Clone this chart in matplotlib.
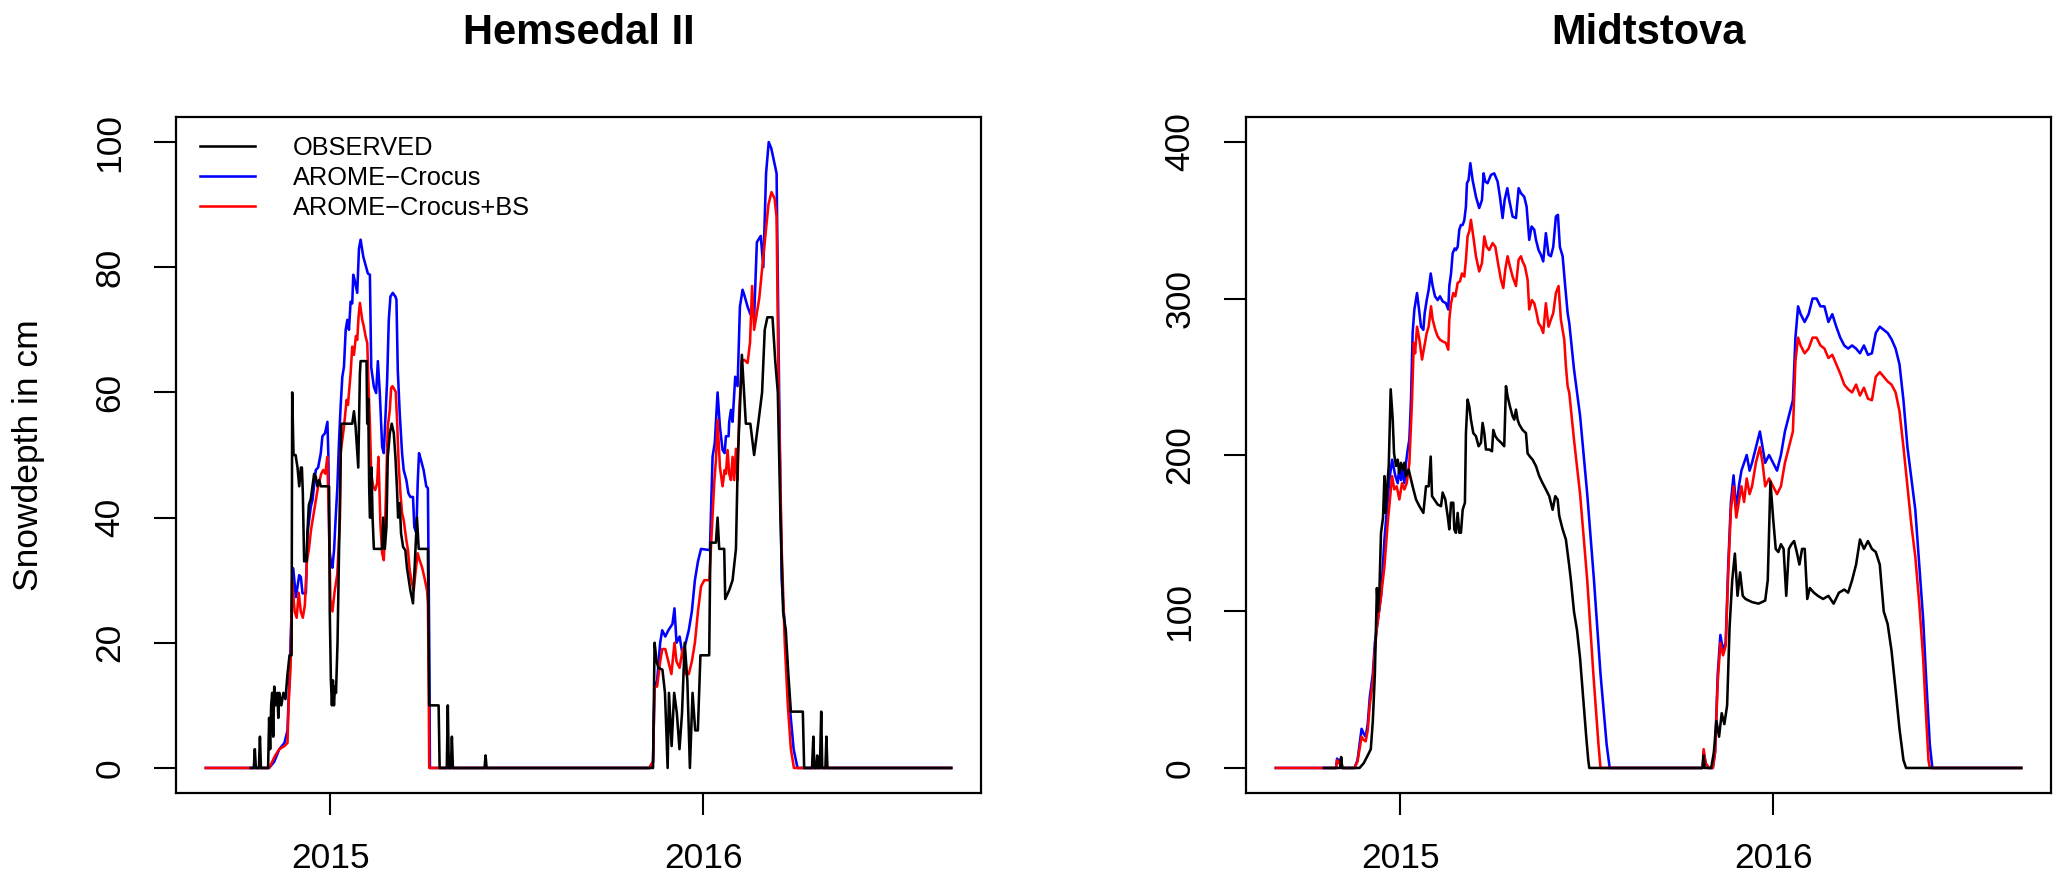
import numpy as np
import matplotlib
matplotlib.use("Agg")
import matplotlib.pyplot as plt

plt.rcParams['font.family'] = ['Liberation Sans', 'DejaVu Sans']

# ---------------- data (days relative to 1 Jan of each winter, value in cm) ----------------
SERIES_START = "2014-09-01"
SERIES_END = "2016-08-31"
WINTER1_BASE = "2015-01-01"
WINTER2_BASE = "2016-01-01"

TITLES = ["Hemsedal II", "Midtstova"]
LEGEND_LABELS = ["OBSERVED", "AROME\u2212Crocus", "AROME\u2212Crocus+BS"]
Y_LABEL = "Snowdepth in cm"
X_TICK_DATES = ["2015-01-01", "2016-01-01"]
X_TICK_LABELS = ["2015", "2016"]
HEM_YTICKS = [0, 20, 40, 60, 80, 100]
MID_YTICKS = [0, 100, 200, 300, 400]

# Hemsedal II ------------------------------------------------
HEM_OBS_W1 = [(-78, 0), (-75, 0), (-74, 3), (-73, 0), (-70, 0), (-69, 5), (-68, 0), (-61, 0), (-60, 8), (-59, 3),
              (-58, 10), (-57, 12), (-56, 5), (-55, 13), (-54, 10), (-52, 12), (-51, 8), (-50, 12), (-48, 10),
              (-46, 12), (-44, 11), (-42, 15), (-40, 18), (-38, 18), (-37.4, 60), (-36.1, 50), (-34.1, 50),
              (-32.2, 48), (-30.5, 45), (-28.9, 48), (-27.9, 48), (-27, 44), (-25.7, 33), (-24.4, 34),
              (-23.4, 33), (-22.4, 38), (-21.1, 42), (-19.2, 43), (-17.5, 45), (-15.9, 47), (-14.3, 46.5),
              (-12.7, 45), (-11, 46), (-9.4, 45), (-1.3, 45), (-0.6, 25), (0.5, 14), (1.5, 10), (2.5, 14),
              (3.5, 10), (4.5, 13), (5.5, 12), (7, 20), (8.5, 35), (10.7, 55), (21.4, 55), (23.1, 57),
              (24.7, 54.5), (27.3, 48), (28.9, 63), (29.6, 65), (35.4, 65), (36.1, 55), (37, 59), (38, 45),
              (38.7, 40), (39.3, 40), (40.3, 48), (41.3, 40), (42.6, 35), (50.7, 35), (51.7, 40), (53.3, 35),
              (54.9, 38.5), (56.2, 49.7), (58.2, 53.5), (60.1, 55), (62.1, 53.5), (63.7, 49.7), (65.3, 44.4),
              (66.3, 40), (67.9, 42.3), (69.2, 37.5), (71.2, 35.3), (73.4, 34.8), (75, 32), (78.3, 28.4),
              (80.9, 26.3), (82.2, 31), (84.8, 40), (86.5, 35), (95.5, 35), (96.8, 10), (106, 10), (107, 0),
              (114, 0), (115, 10), (116, 0), (118, 0), (119, 5), (120, 0), (151, 0), (152, 2), (153, 0)]
HEM_OBS_W2 = [(-49, 0), (-47.5, 20), (-45.5, 17), (-43.7, 16), (-39.8, 15.7), (-37.3, 12), (-34.7, 0),
              (-33.4, 12), (-30.8, 3.5), (-28.3, 12), (-25.7, 8.8), (-23.1, 3), (-20.6, 8.8), (-18, 20),
              (-15.4, 14), (-12.9, 0), (-10.3, 12), (-7.7, 6), (-5.1, 6), (-2.6, 18), (6, 18), (7.2, 36),
              (12.6, 36), (14.2, 40), (15.8, 35), (20.7, 35), (21.7, 27), (25.6, 28.4), (28.9, 30), (32.2, 35),
              (34.1, 50), (36, 57), (38, 66), (41.9, 55), (46.3, 55), (50, 50), (54, 55), (57.8, 60), (60.4, 70),
              (63, 72), (68, 72), (70.7, 65), (73.2, 60), (75.8, 40), (78.4, 25), (81, 22), (83.5, 15), (86, 9),
              (97.7, 9), (99, 0), (106.7, 0), (108, 5), (109, 0), (110.8, 0), (111.8, 2), (112.8, 0), (114.4, 0),
              (115.7, 9), (116.7, 0), (119.8, 0), (120.8, 5), (121.8, 0)]
HEM_BLUE_W1 = [(-60, 0), (-55, 1), (-50, 3), (-45, 4), (-42, 6), (-40, 15), (-38, 25), (-36.4, 31.9), (-33.8, 27.3),
               (-30.5, 30.8), (-28.9, 30.5), (-27.3, 27.9), (-24, 27.9), (-22.4, 37.5), (-19.2, 41.7),
               (-17.5, 42.8), (-14.3, 47.6), (-12, 48), (-9.4, 50.3), (-7.8, 53), (-5.2, 53.5), (-2.9, 55.3),
               (-2, 50), (-1, 35), (0.3, 33.2), (2, 32), (3.6, 34.8), (5.2, 40), (6.8, 44.7), (8.4, 52),
               (10, 57.7), (11.7, 62.5), (13.3, 64.1), (15, 70), (16.6, 71.6), (18.2, 70), (19.8, 74.5),
               (21.4, 74.2), (22.4, 78.8), (23.7, 78), (26.3, 75.9), (28, 83), (29.6, 84.4), (32.2, 81.7),
               (34.4, 80.4), (36.7, 79), (38.7, 78.8), (40, 64), (42.6, 60.9), (44.8, 59.9), (46.5, 65),
               (48.4, 59.9), (50.7, 51.3), (52.3, 50.3), (55.6, 62), (57.2, 71.6), (58.8, 75.3), (61.1, 75.9),
               (63.7, 75.3), (64.7, 74.8), (66, 63.6), (67.9, 56.7), (70.2, 50.3), (71.8, 47.6), (74.4, 46),
               (76.4, 43.9), (78.3, 43.3), (80.9, 43.3), (82.2, 38.5), (84.2, 37.5), (85.5, 45.5), (86.8, 50.3),
               (88.7, 49.2), (91.3, 47.6), (93.9, 45), (95.5, 44.7), (96.8, 20), (97.5, 0)]
HEM_BLUE_W2 = [(-52.7, 0), (-49, 1), (-47.5, 13), (-45, 14), (-42, 20), (-40, 22), (-37, 21), (-34, 22), (-30, 23),
               (-28, 25.5), (-26, 20), (-23, 21), (-20, 18), (-17, 20), (-14, 22), (-11, 25), (-8, 30), (-5, 33),
               (-2, 35), (6.7, 34.8), (9.3, 49.7), (11.5, 52), (14.2, 60), (16.5, 54.5), (19.1, 50.8),
               (21.1, 50.3), (22.4, 53), (25, 53), (25.6, 55.3), (27.3, 57.2), (28.9, 55.3), (31.5, 62.5),
               (33.8, 61), (35.4, 69.5), (36.1, 73.7), (38.7, 76.4), (40.3, 75.6), (43.6, 73.7), (46.3, 72.5),
               (50, 72), (52.7, 84), (56.5, 85), (59, 80), (61.7, 95), (64.3, 100), (66.8, 99), (69.4, 97),
               (72, 95), (74.5, 60), (77, 30), (81, 20), (84.8, 10), (88.7, 3), (92.5, 0)]
HEM_RED_W1 = [(-60, 0), (-54, 2), (-50, 3), (-45, 3.5), (-42, 4), (-41, 10), (-39, 16), (-37.5, 30), (-35, 25),
              (-33, 24), (-31, 28), (-29, 25), (-27, 24), (-25, 26), (-23, 33), (-21, 35), (-19, 38), (-15, 42),
              (-12, 45), (-9, 47), (-7, 47.6), (-5, 47), (-3, 49.7), (-1.5, 40), (0, 27), (2, 25), (4, 28),
              (6.8, 31), (9.4, 40), (10, 50.3), (13.3, 54.5), (15.9, 58.8), (17.2, 58), (19.8, 63), (21.4, 67.3),
              (23.1, 66), (25, 69), (26.3, 68.4), (27.6, 72.1), (28.9, 74.3), (31.2, 71.6), (32.8, 70.5),
              (34.4, 69), (36.1, 67.9), (37.4, 60.9), (38.7, 55), (40, 47), (41.9, 45), (43.9, 44.4),
              (45.8, 45.5), (47.1, 49.7), (49, 39), (50.7, 34.3), (52.3, 33.2), (53.6, 39), (54.9, 47),
              (56.2, 54.5), (58.2, 57.2), (59.5, 60.7), (60.8, 61), (64, 60.1), (65.3, 55.6), (67, 48.1),
              (68.6, 43.9), (70.2, 40.7), (71.8, 39.6), (74.4, 36.4), (76, 34.8), (77.7, 31.6), (79.9, 29.5),
              (81.6, 28.4), (83.2, 31), (85.5, 34.3), (87.4, 33.2), (89.7, 32.1), (92, 30.5), (94.6, 28.4),
              (95.5, 26.3), (96.2, 15), (96.8, 0)]
HEM_RED_W2 = [(-52.7, 0), (-49, 1), (-47.5, 13), (-45, 13), (-42, 17), (-40, 19), (-37, 19), (-34, 17), (-31, 15),
              (-28, 20), (-26, 17), (-23, 16), (-20, 19), (-17, 15), (-14, 15), (-11, 17), (-8, 20), (-5, 25),
              (-2, 29), (1.2, 30), (6.1, 30), (10.9, 45.5), (12.6, 49.2), (14.2, 55.6), (16.5, 48.1), (19.1, 45),
              (21.1, 47.6), (22.4, 47), (24, 50.8), (25.6, 47), (27.3, 46), (28.9, 49.7), (30.5, 46), (32.2, 51),
              (33.8, 46), (35.4, 57), (38, 65), (40.3, 65.2), (43.6, 64.7), (46, 68), (48, 77), (50, 70),
              (52, 72), (55, 75), (58, 80), (61, 85), (64, 90), (67, 92), (70, 91), (72, 88), (74, 60), (77, 35),
              (80, 20), (83, 10), (86, 3), (89, 0)]

# Midtstova --------------------------------------------------
MID_OBS_W1 = [(-75, 0), (-59, 0), (-58, 7), (-57, 0), (-40, 0), (-36, 3), (-32, 8), (-29, 12), (-27, 30), (-25, 60),
              (-23, 115), (-22, 100), (-20.5, 114), (-19, 150), (-17, 160), (-15.6, 186.5), (-14.7, 163),
              (-13.4, 176), (-11.4, 193), (-9.5, 242), (-7.5, 222.6), (-6.2, 201), (-4.3, 193), (-2.6, 197),
              (-1, 188.6), (0.6, 195), (2.3, 190.7), (3.9, 195), (5.5, 186.5), (8.1, 190.7), (10.4, 184.3),
              (12, 180), (15.3, 171.6), (18.6, 167.3), (22.5, 163), (25.1, 180), (27.7, 180), (29.7, 199),
              (31, 173.7), (33.2, 171.6), (36.5, 168.4), (39.8, 167.3), (41.4, 176), (44, 171.6), (46.3, 161),
              (47.9, 152.5), (49.6, 169.5), (51.8, 169.5), (52.8, 152.5), (54.4, 150.3), (56.1, 163),
              (57.7, 150.3), (59.3, 150.3), (61, 165), (63.2, 169.5), (64.2, 214), (65.8, 235.4), (67.5, 231),
              (69.1, 222.6), (71.4, 214), (74, 212), (76.6, 205.6), (78.9, 207.8), (80.5, 220.5), (82.2, 214),
              (83.8, 203.5), (87.1, 203.5), (89.7, 202.4), (91, 216), (93, 212), (95.2, 210), (98.5, 208),
              (101.7, 205.6), (103.4, 244), (105, 237.5), (107.3, 231), (109.9, 224.8), (111.5, 222.6),
              (113.2, 229), (114.8, 222.6), (116.4, 219.5), (119.7, 216), (123, 214), (124.6, 201),
              (126.9, 199), (129.5, 197), (132.8, 192.9), (136, 186.5), (139.3, 182), (142.5, 178),
              (145.8, 173.7), (149.1, 165), (151.7, 173.7), (154, 171.6), (155.6, 161), (158.9, 152.5),
              (162.1, 146), (165.4, 129), (167, 120), (170, 100), (173, 88), (176, 70), (179, 45), (182, 20),
              (184, 5), (185, 0)]
MID_OBS_W2 = [(-72, 0), (-69, 0), (-68, 8), (-67, 0), (-60.6, 0), (-58, 10), (-55.5, 30), (-52.9, 20), (-50.3, 35),
              (-47.7, 28), (-45, 40), (-42.6, 90), (-40, 120), (-37.4, 137), (-34.8, 110), (-32.3, 125),
              (-29.7, 110), (-27, 108), (-20.6, 106), (-14.2, 105), (-7.7, 107), (-5.2, 120), (-2.6, 183),
              (0, 160), (2.6, 140), (5.2, 138), (7.7, 143), (10.3, 140), (12.9, 110), (15.5, 140), (18, 143),
              (20.6, 145), (23.2, 138), (25.8, 130), (28.4, 140), (31, 140), (33.5, 108), (36, 115), (40, 112),
              (43.9, 110), (49, 108), (54.2, 110), (59.3, 105), (64.5, 112), (69.7, 114), (73.5, 112),
              (77.4, 120), (81.3, 130), (85.1, 146), (89, 140), (92.9, 145), (96.8, 140), (100.6, 138),
              (104.5, 130), (108.4, 100), (112.2, 92), (116, 75), (120, 50), (123.8, 25), (127.7, 5), (130.3, 0)]
MID_BLUE_W1 = [(-63, 0), (-62, 6), (-60, 4), (-58, 6), (-57, 0), (-45, 0), (-42, 5), (-40, 15), (-38, 25), (-36, 22),
               (-34, 20), (-32, 28), (-30, 45), (-27, 60), (-25, 80), (-23, 90), (-21, 100), (-18.9, 110),
               (-15.6, 146), (-10.8, 184), (-8.1, 197), (-4.9, 186.5), (-2.6, 182), (-1, 193), (0.6, 184),
               (2.3, 190.7), (3.9, 182), (5.5, 195), (7.2, 203.5), (8.8, 210), (10.4, 235.4), (12, 278),
               (13.7, 293), (16.3, 303.5), (17.9, 295), (20.2, 282), (22.5, 280), (23.8, 290.7), (25.8, 299),
               (27.7, 305.6), (29.7, 316), (31.6, 308), (33.9, 301.4), (36.5, 299), (38.8, 301.4), (41.4, 298.2),
               (44.6, 297), (46.9, 293), (47.9, 308), (49.6, 316), (51.2, 329), (53.2, 332), (54.4, 331),
               (56.1, 333), (57.7, 344), (59.3, 347), (61, 347), (62.6, 350), (64.2, 358.8), (65.2, 373.7),
               (66.8, 375.8), (68.5, 386.5), (70.7, 375.8), (74, 365), (77.2, 357.8), (79.9, 363), (81.5, 380),
               (83.1, 374.8), (85.4, 373.7), (88.7, 379), (91.9, 380), (95.2, 374.8), (97.5, 365), (100.1, 351.4),
               (102.1, 363), (104.7, 370.5), (106.6, 363), (109.9, 352.4), (113.2, 351.4), (115.8, 370.5),
               (118.1, 367.3), (121.3, 365), (123.6, 358.8), (126.2, 337.5), (128.5, 346), (131.1, 344),
               (132.8, 337.5), (135.3, 331), (137.6, 328), (139.9, 323.7), (142.5, 341.8), (145.1, 328),
               (147.4, 327), (149.7, 333), (152.3, 352.4), (154.3, 353.5), (156.2, 333), (158.9, 327),
               (161.4, 308), (163.8, 290.7), (165.4, 284.3), (170, 255), (176, 225), (183, 175), (189.6, 120),
               (196, 60), (202, 15), (205, 0)]
MID_BLUE_W2 = [(-72, 0), (-69, 0), (-68, 10), (-66, 3), (-63, 0), (-59, 0), (-56.8, 10), (-54.2, 60), (-51.6, 85),
               (-49, 75), (-46.4, 80), (-43.9, 130), (-41.3, 170), (-38.7, 187), (-36, 165), (-33.5, 180),
               (-31, 190), (-28.4, 195), (-25.8, 200), (-23, 190), (-20.6, 195), (-16.8, 205), (-12.9, 215),
               (-10.3, 205), (-7.7, 195), (-3.9, 200), (0, 195), (3.9, 190), (7.7, 200), (11.6, 215), (15.5, 225),
               (19.4, 235), (21.9, 275), (24.5, 295), (27, 290), (30.9, 285), (34.8, 290), (38.7, 300),
               (42.6, 300), (46.4, 295), (50.3, 295), (54.2, 285), (58, 290), (61.9, 282), (65.8, 275),
               (69.7, 270), (73.5, 268), (77.4, 270), (81.3, 268), (85.1, 265), (89, 270), (92.9, 264),
               (96.8, 265), (100.6, 278), (104.5, 282), (108.4, 280), (112.2, 278), (116, 274), (120, 268),
               (123.8, 258), (127.7, 235), (131.6, 205), (135.5, 185), (139.3, 165), (143.2, 130), (147, 95),
               (149.7, 60), (152.2, 30), (153.5, 15), (156, 0)]
MID_RED_W1 = [(-63, 0), (-62, 5), (-60, 3), (-58, 5), (-57, 0), (-45, 0), (-42, 4), (-40, 12), (-38, 20), (-36, 18),
              (-34, 17), (-32, 24), (-30, 40), (-27, 55), (-25, 75), (-23, 90), (-21, 100), (-18.9, 110),
              (-15.6, 129), (-12.4, 156.7), (-8.1, 186.5), (-5.9, 178), (-3.6, 180), (-1, 171.6), (1.6, 182),
              (3.9, 178), (6.2, 182), (8.8, 195), (11.4, 235), (13.1, 271.6), (14.4, 265), (16.3, 282),
              (18.6, 273.7), (21.2, 261), (23.5, 269.5), (25.8, 278), (27.7, 282), (30, 295), (31.6, 286.5),
              (34.2, 280), (36.5, 275.8), (38.8, 273.7), (41.4, 272.6), (44.6, 271.6), (46.9, 267.3),
              (47.9, 286.5), (49.6, 297), (51.8, 303.5), (53.8, 301.4), (56.1, 310), (58.4, 311), (60.3, 316),
              (62.6, 314), (64.2, 324.8), (65.8, 339.7), (67.5, 343), (69.1, 350.3), (71.4, 339.7), (74, 327),
              (77.2, 317.3), (79.9, 322.6), (82.2, 339.7), (84.5, 333), (87.1, 331), (90.3, 335.4), (93, 333),
              (95.6, 322.6), (98.5, 312), (100.8, 306.7), (102.7, 318.4), (105, 327), (107.3, 320.5),
              (109.9, 314), (113.2, 308), (115.8, 324.8), (118.1, 327), (119.7, 323.7), (122, 320.5),
              (124.6, 312), (126.2, 293), (128.8, 299), (131.1, 297), (133.4, 290.7), (135.3, 284.3),
              (137.6, 282), (139.9, 278), (142.5, 297), (145.1, 282), (147.4, 286.5), (149.7, 290.7),
              (152.3, 303.5), (154.9, 308), (157.2, 286.5), (160.5, 273.7), (162.1, 256.7), (163.8, 244),
              (165.4, 239.7), (170, 210), (176, 175), (183, 120), (189, 60), (194, 15), (196, 0)]
MID_RED_W2 = [(-72, 0), (-69, 0), (-68, 12), (-66, 3), (-63, 0), (-59, 0), (-56.8, 10), (-54.2, 55), (-51.6, 80),
              (-49, 72), (-46.4, 78), (-43.9, 125), (-41.3, 165), (-38.7, 180), (-36, 160), (-33.5, 170),
              (-31, 180), (-28.4, 170), (-25.8, 185), (-23, 175), (-20.6, 180), (-16.8, 195), (-12.9, 205),
              (-10.3, 195), (-7.7, 180), (-3.9, 185), (0, 180), (3.9, 175), (7.7, 180), (11.6, 195), (15.5, 205),
              (19.4, 215), (21.9, 260), (24.5, 275), (27, 270), (30.9, 265), (34.8, 268), (38.7, 275),
              (42.6, 275), (46.4, 270), (50.3, 268), (54.2, 262), (58, 264), (61.9, 258), (65.8, 252),
              (69.7, 245), (73.5, 242), (77.4, 240), (81.3, 245), (85.1, 238), (89, 243), (92.9, 236),
              (96.8, 235), (100.6, 250), (104.5, 253), (108.4, 250), (112.2, 247), (116, 245), (120, 240),
              (123.8, 228), (127.7, 205), (131.6, 180), (135.5, 155), (139.3, 135), (143.2, 105), (147, 70),
              (149.7, 35), (152.2, 5), (153.5, 0)]


def build(w1, w2, model=True):
    b1 = np.datetime64(WINTER1_BASE + "T00:00")
    b2 = np.datetime64(WINTER2_BASE + "T00:00")
    dates, vals = [], []
    if model:
        dates.append(np.datetime64(SERIES_START + "T00:00"))
        vals.append(0.0)
    for base, w in ((b1, w1), (b2, w2)):
        for day, v in w:
            dates.append(base + np.timedelta64(int(round(day * 1440)), 'm'))
            vals.append(float(v))
    dates.append(np.datetime64(SERIES_END + "T00:00"))
    vals.append(0.0)
    return np.array(dates), np.array(vals)


W, H = 2067, 884
fig = plt.figure(figsize=(W / 100, H / 100), dpi=100)
ax_l = fig.add_axes([176 / W, 1 - 793 / H, 805 / W, 676 / H])
ax_r = fig.add_axes([1246 / W, 1 - 793 / H, 805 / W, 676 / H])

panels = [
    (ax_l, (HEM_OBS_W1, HEM_OBS_W2), (HEM_BLUE_W1, HEM_BLUE_W2), (HEM_RED_W1, HEM_RED_W2), 100, HEM_YTICKS),
    (ax_r, (MID_OBS_W1, MID_OBS_W2), (MID_BLUE_W1, MID_BLUE_W2), (MID_RED_W1, MID_RED_W2), 400, MID_YTICKS),
]

LW = 1.85
start = np.datetime64(SERIES_START + "T00:00")
end = np.datetime64(SERIES_END + "T00:00")
span = (end - start)
pad = span * 0.04

handles = None
for ax, obs, blue, red, ymax, yt in panels:
    xb, yb = build(*blue)
    xr, yr = build(*red)
    xo, yo = build(*obs, model=False)
    hb, = ax.plot(xb, yb, color='blue', lw=LW, zorder=2)
    hr, = ax.plot(xr, yr, color='red', lw=LW, zorder=3)
    ho, = ax.plot(xo, yo, color='black', lw=LW, zorder=4)
    if handles is None:
        handles = [ho, hb, hr]
    ax.set_xlim(start - pad, end + pad)
    ax.set_ylim(-0.04 * ymax, 1.04 * ymax)
    ax.set_yticks(yt)
    ax.set_yticklabels([str(v) for v in yt])
    ax.set_xticks([np.datetime64(d + "T00:00") for d in X_TICK_DATES])
    ax.set_xticklabels(X_TICK_LABELS)
    ax.tick_params(axis='both', direction='out', length=15.6, width=1.5, pad=20,
                   labelsize=25.5, colors='black')
    ax.tick_params(axis='y', labelrotation=90)
    for lab in ax.get_yticklabels():
        lab.set_va('center')
    for sp in ax.spines.values():
        sp.set_linewidth(1.6)
        sp.set_color('black')

ax_l.legend(handles, LEGEND_LABELS, loc='upper left', bbox_to_anchor=(24.4 / 805, 1 - 18.5 / 676),
            borderaxespad=0, borderpad=0, frameon=False, fontsize=18.3, handlelength=2.13,
            handletextpad=1.5, labelspacing=0.24)

fig.text(578.5 / W, 1 - 44 / H, TITLES[0], ha='center', va='baseline', fontsize=30, fontweight='bold')
fig.text(1648.5 / W, 1 - 44 / H, TITLES[1], ha='center', va='baseline', fontsize=30, fontweight='bold')
fig.text(29 / W, 1 - 455 / H, Y_LABEL, rotation=90, ha='center', va='center', fontsize=25.5)

fig.savefig("out.png", dpi=100, facecolor='white')
